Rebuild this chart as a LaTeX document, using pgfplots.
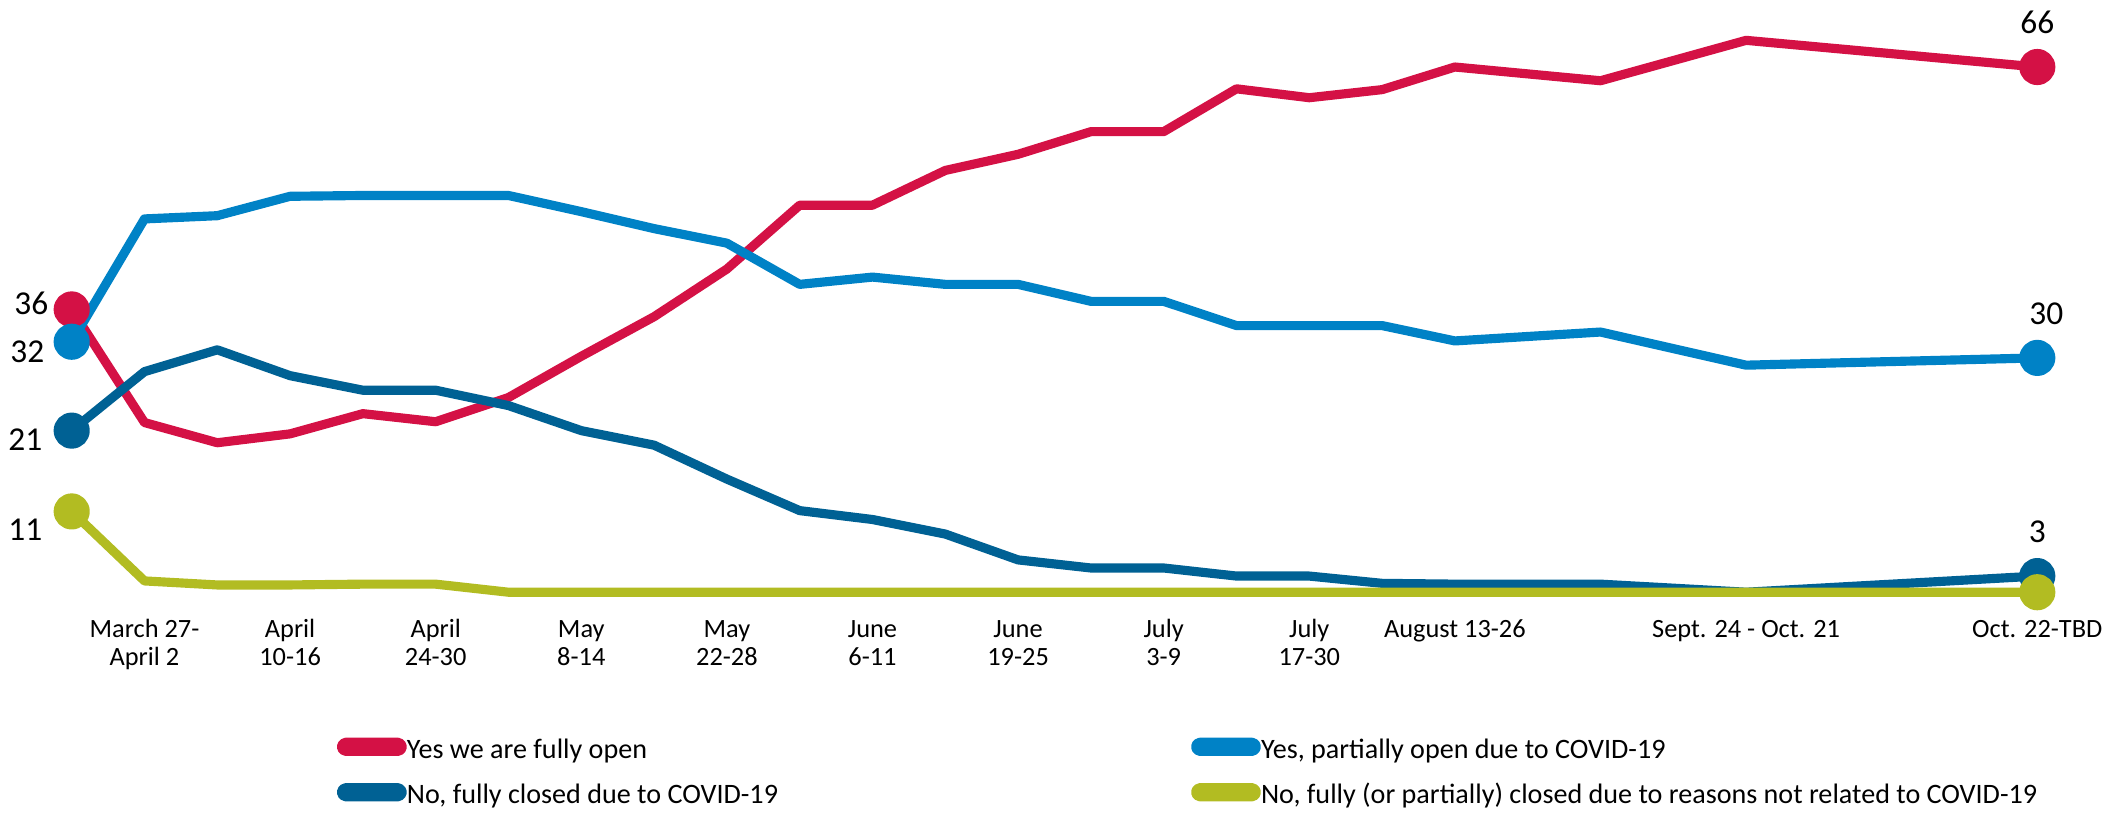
\documentclass[border=0pt]{standalone}
\usepackage{fontspec}
\setmainfont{Carlito}
\usepackage{pgfplots}
\usepackage{pgfplotstable}
\pgfplotsset{compat=1.18}

\definecolor{cRed}{RGB}{212,17,69}
\definecolor{cBlue}{RGB}{0,130,198}
\definecolor{cDark}{RGB}{0,97,148}
\definecolor{cGreen}{RGB}{178,188,34}
\newcommand\datafont{\fontsize{9.5}{11}\selectfont}

% survey waves; x = position on the time axis
\pgfplotstableread{
x  red  blue dark green
0  36   32   21   11
1  22.0 47.2 28.3 2.4
2  19.5 47.6 31.0 1.9
3  20.6 50.0 27.8 1.9
4  23.1 50.1 26.0 2.0
5  22.1 50.1 26.0 2.0
6  25.1 50.1 24.1 1.0
7  30.2 48.1 21.0 1.0
8  35.1 46.0 19.2 1.0
9  41.0 44.2 15.0 1.0
10 48.9 39.1 11.1 1.0
11 48.9 40.0 10.0 1.0
12 53.2 39.1 8.2  1.0
13 55.2 39.1 5.0  1.0
14 58.0 37.0 4.0  1.0
15 58.0 37.0 4.0  1.0
16 63.3 34.0 3.0  1.0
17 62.2 34.0 3.0  1.0
18 63.2 34.0 2.1  1.0
19 66.0 32.1 2.0  1.0
21 64.3 33.2 2.0  1.0
23 69.3 29.1 1.0  1.0
27 66   30   3    1
}\data

\begin{document}
\begin{tikzpicture}
\path[use as bounding box] (-0.717,-2.127) rectangle (20.433,6.003);
\begin{axis}[
  at={(0,0)}, anchor=south west,
  width=19.656cm, height=5.333cm, scale only axis,
  xmin=0, xmax=27, ymin=0, ymax=66,
  clip=false,
  axis line style={draw=none},
  ytick=\empty,
  xtick={1,3,5,7,9,11,13,15,17,19,23,27},
  xticklabels={{\strut March 27-\\April 2},{\strut April\\10-16},{\strut April\\24-30},{\strut May\\8-14},{\strut May\\22-28},{\strut June\\6-11},{\strut June\\19-25},{\strut July\\3-9},{\strut July\\17-30},{\strut August 13-26},{\strut Sept. 24 - Oct. 21},{\strut Oct. 22-TBD}},
  major tick length=0pt,
  xticklabel style={align=center, font=\fontsize{7.5}{7.7}\selectfont, anchor=north, inner sep=0pt, yshift=-0.18cm},
  legend columns=2,
  legend cell align=left,
  legend style={draw=none, fill=none, inner sep=0pt, at={(0.1345,-0.2355)}, anchor=north west,
    row sep=0.05cm,
    nodes={inner xsep=0pt, inner ysep=0pt, text height=0.9em, text depth=0.25em, font=\fontsize{8}{9.6}\selectfont}},
  legend image code/.code={\fill[rounded corners=0.046cm] (0cm,-0.046cm) rectangle (0.61cm,0.046cm);},
  every axis plot/.append style={line width=2.6pt, line join=round, mark=*, mark indices={1,23}, mark size=3.84pt},
]
\addplot[color=cRed, mark options={draw=none, fill=cRed}] table[x=x, y=red] {\data};
\addlegendentry{\makebox[7.84cm][l]{Yes we are fully open}}
\addplot[color=cBlue, mark options={draw=none, fill=cBlue}] table[x=x, y=blue] {\data};
\addlegendentry{Yes, partially open due to COVID-19}
\addplot[color=cDark, mark options={draw=none, fill=cDark}] table[x=x, y=dark] {\data};
\addlegendentry{\makebox[7.84cm][l]{No, fully closed due to COVID-19}}
\addplot[color=cGreen, mark options={draw=none, fill=cGreen}] table[x=x, y=green] {\data};
\addlegendentry{No, fully (or partially) closed due to reasons not related to COVID-19}

\node[anchor=east, inner sep=0pt, font=\datafont, xshift=-0.227cm] at (axis cs:0,36.8) {36};
\node[anchor=east, inner sep=0pt, font=\datafont, xshift=-0.267cm] at (axis cs:0,30.8) {32};
\node[anchor=east, inner sep=0pt, font=\datafont, xshift=-0.287cm] at (axis cs:0,19.9) {21};
\node[anchor=east, inner sep=0pt, font=\datafont, xshift=-0.287cm] at (axis cs:0,8.7) {11};
\node[inner sep=0pt, font=\datafont] at (axis cs:27,71.5) {66};
\node[inner sep=0pt, font=\datafont, xshift=0.09cm] at (axis cs:27,35.4) {30};
\node[inner sep=0pt, font=\datafont] at (axis cs:27,8.45) {3};
\end{axis}
\end{tikzpicture}
\end{document}
